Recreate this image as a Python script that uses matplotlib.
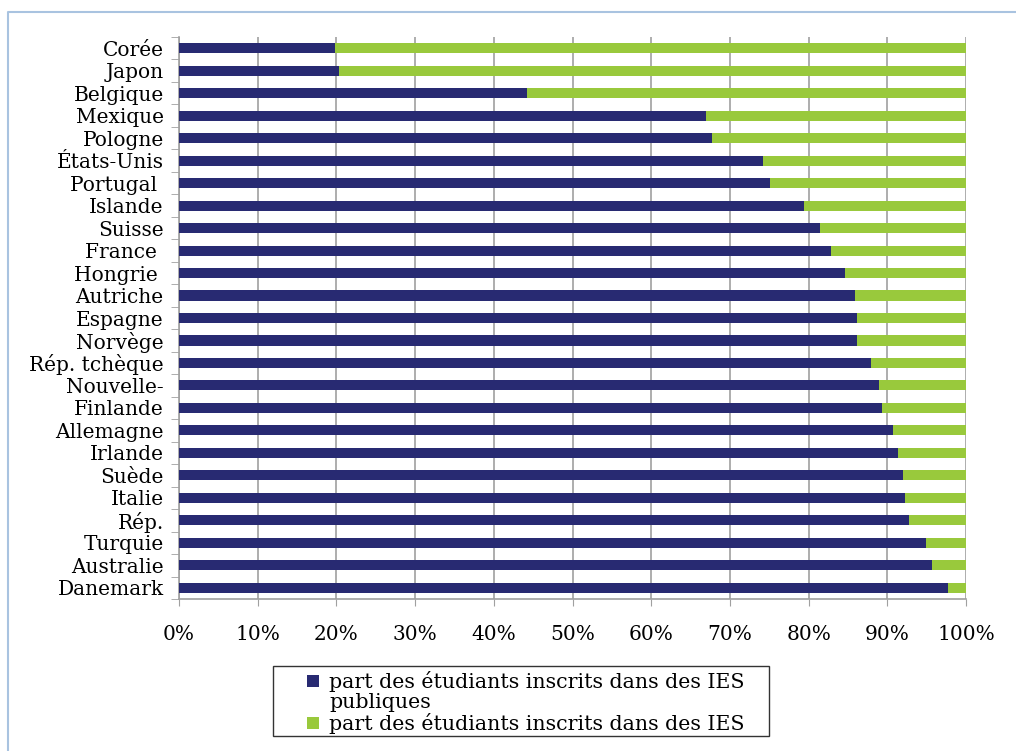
import numpy as np
import matplotlib
matplotlib.use('Agg')
import matplotlib.pyplot as plt
from matplotlib.patches import Rectangle
from matplotlib.lines import Line2D
from matplotlib.ticker import FixedLocator, PercentFormatter

# share of students in public institutions (%), top to bottom
pays = ['Corée', 'Japon', 'Belgique', 'Mexique', 'Pologne', 'États-Unis', 'Portugal ',
        'Islande', 'Suisse', 'France ', 'Hongrie ', 'Autriche', 'Espagne', 'Norvège',
        'Rép. tchèque', 'Nouvelle-', 'Finlande', 'Allemagne', 'Irlande', 'Suède',
        'Italie', 'Rép.', 'Turquie', 'Australie', 'Danemark']
part_publique = [19.8, 20.3, 44.2, 67.0, 67.7, 74.2, 75.1, 79.4, 81.5, 82.9, 84.6, 85.9,
                 86.2, 86.2, 87.9, 88.9, 89.3, 90.7, 91.4, 92.0, 92.3, 92.8, 94.9, 95.7, 97.7]
part_privee = [100 - v for v in part_publique]

lab_pub = 'part des étudiants inscrits dans des IES'
lab_pub2 = 'publiques'
lab_priv = 'part des étudiants inscrits dans des IES'

c_pub = '#282a72'
c_priv = '#99c93c'
c_grid = '#a0a0a0'

W, H = 1016, 751
plt.rcParams['font.family'] = ['DejaVu Serif']
fig = plt.figure(figsize=(W / 100, H / 100), dpi=100)

def fx(x):
    return x / W

def fy(y):
    return 1 - y / H

ax = fig.add_axes([fx(179), fy(599), fx(966) - fx(179), fy(37) - fy(599)])

y = np.arange(len(pays))
ax.barh(y, part_publique, height=0.45, color=c_pub, zorder=3)
ax.barh(y, part_privee, left=part_publique, height=0.45, color=c_priv, zorder=3)

ax.set_xlim(0, 100)
ax.set_ylim(len(pays) - 0.5, -0.5)
ax.set_xticks(np.arange(0, 101, 10))
ax.xaxis.set_major_formatter(PercentFormatter(decimals=0))
ax.grid(axis='x', color=c_grid, linewidth=1.2, zorder=0)

ax.set_yticks(y)
ax.set_yticklabels(pays)
ax.yaxis.set_minor_locator(FixedLocator(np.arange(-0.5, len(pays), 1)))
ax.tick_params(axis='y', which='major', length=0, pad=11, labelsize=14.5)
ax.tick_params(axis='y', which='minor', length=6, color=c_grid, direction='out')
ax.tick_params(axis='x', length=5, color=c_grid, direction='out', pad=14, labelsize=14.5)

for s in ['top', 'right']:
    ax.spines[s].set_visible(False)
for s in ['left', 'bottom']:
    ax.spines[s].set_color(c_grid)
    ax.spines[s].set_linewidth(1.2)

# outer frame
fig.add_artist(Line2D([fx(8), fx(8), 1], [0, fy(12), fy(12)], color='#a9c3e0', linewidth=1.5))

# legend box
fig.add_artist(Rectangle((fx(273), fy(736)), fx(769) - fx(273), fy(666) - fy(736),
                         facecolor='white', edgecolor='#333333', linewidth=1.0))
fig.add_artist(Rectangle((fx(307), fy(687)), fx(12), fy(0) - fy(12), facecolor=c_pub, edgecolor='none'))
fig.add_artist(Rectangle((fx(307), fy(729)), fx(12), fy(0) - fy(12), facecolor=c_priv, edgecolor='none'))
fig.text(fx(329), fy(681), lab_pub, fontsize=14.8, va='center', ha='left')
fig.text(fx(329), fy(703), lab_pub2, fontsize=14.8, va='center', ha='left')
fig.text(fx(329), fy(724), lab_priv, fontsize=14.8, va='center', ha='left')

fig.savefig('out.png', dpi=100)
